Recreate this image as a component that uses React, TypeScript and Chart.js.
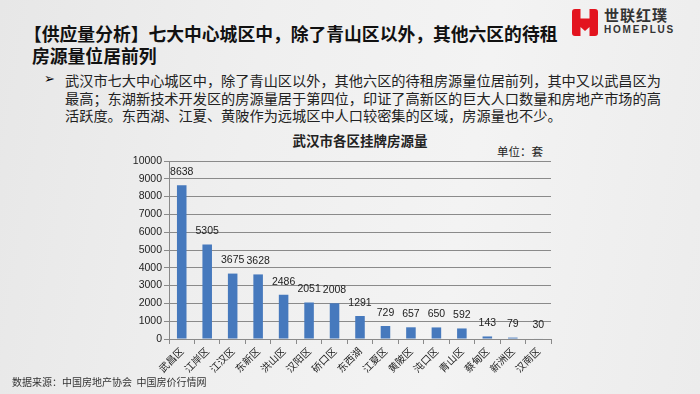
import React, { useEffect, useRef } from "react";
import { Chart, registerables } from "chart.js";

Chart.register(...registerables);

// ---- data ----
const districts = [
  "武昌区", "江岸区", "江汉区", "东新区", "洪山区", "汉阳区", "硚口区", "东西湖",
  "江夏区", "黄陂区", "沌口区", "青山区", "蔡甸区", "新洲区", "汉南区",
];
const listings = [8638, 5305, 3675, 3628, 2486, 2051, 2008, 1291, 729, 657, 650, 592, 143, 79, 30];
const yMin = 0;
const yMax = 10000;
const yStep = 1000;

const titleLines = [
  "【供应量分析】七大中心城区中，除了青山区以外，其他六区的待租",
  "房源量位居前列",
];
const bodyLines = [
  "武汉市七大中心城区中，除了青山区以外，其他六区的待租房源量位居前列，其中又以武昌区为",
  "最高；东湖新技术开发区的房源量居于第四位，印证了高新区的巨大人口数量和房地产市场的高",
  "活跃度。东西湖、江夏、黄陂作为远城区中人口较密集的区域，房源量也不少。",
];
const chartTitle = "武汉市各区挂牌房源量";
const unitLabel = "单位：套";
const sourceNote = "数据来源：中国房地产协会  中国房价行情网";
const brandCn = "世联红璞";
const brandEn = "HOMEPLUS";

const CJK = "'Noto Sans CJK SC', 'Noto Sans', sans-serif";
const LATIN = "'Liberation Sans', Arial, 'Noto Sans CJK SC', sans-serif";

const valueLabels = {
  id: "valueLabels",
  afterDatasetsDraw(chart: any) {
    const ctx = chart.ctx;
    const meta = chart.getDatasetMeta(0);
    const data = chart.data.datasets[0].data as number[];
    ctx.save();
    ctx.font = `10.5px ${LATIN}`;
    ctx.fillStyle = "#222";
    ctx.textAlign = "center";
    ctx.textBaseline = "middle";
    meta.data.forEach((el: any, i: number) => {
      ctx.fillText(String(data[i]), el.x, el.y - 13);
    });
    ctx.restore();
  },
};

function ChartCanvas() {
  const ref = useRef<HTMLCanvasElement | null>(null);
  useEffect(() => {
    if (!ref.current) return;
    const chart = new Chart(ref.current, {
      type: "bar",
      data: {
        labels: districts,
        datasets: [
          {
            data: listings,
            backgroundColor: "#4679bd",
            categoryPercentage: 0.75,
            barPercentage: 0.5,
          },
        ],
      },
      options: {
        responsive: false,
        animation: false,
        devicePixelRatio: 1,
        layout: { padding: { left: 109, right: 149, top: 161, bottom: 0 } },
        plugins: { legend: { display: false }, tooltip: { enabled: false }, title: { display: false } },
        scales: {
          x: {
            offset: true,
            grid: { display: true, offset: true, drawOnChartArea: false, drawTicks: true, tickLength: 5, color: "#8a8a8a" },
            border: { display: true, color: "#8a8a8a" },
            ticks: {
              autoSkip: false,
              maxRotation: 45,
              minRotation: 45,
              padding: 1,
              color: "#222",
              font: { size: 10, family: CJK },
            },
            afterFit: (s: any) => {
              s.height = 55;
            },
          },
          y: {
            min: yMin,
            max: yMax,
            ticks: {
              stepSize: yStep,
              padding: 2,
              color: "#222",
              font: { size: 10.5, family: LATIN },
              callback: (v: any) => String(v),
            },
            grid: { color: "#8a8a8a", tickLength: 5, lineWidth: 1 },
            border: { display: true, color: "#8a8a8a" },
            afterFit: (s: any) => {
              s.width = 60;
            },
          },
        },
      },
      plugins: [valueLabels],
    });
    return () => chart.destroy();
  }, []);
  return (
    <canvas
      ref={ref}
      width={700}
      height={394}
      style={{ position: "absolute", left: 0, top: 0, width: 700, height: 394, display: "block" }}
    />
  );
}

const abs = (o: React.CSSProperties): React.CSSProperties => ({
  position: "absolute",
  whiteSpace: "pre",
  margin: 0,
  ...o,
});

export default function App() {
  return (
    <div
      style={{
        position: "absolute",
        left: 0,
        top: 0,
        width: 700,
        height: 394,
        overflow: "hidden",
        background: "linear-gradient(100deg, #e7e7e7 0%, #efefef 35%, #f3f3f3 65%, #ececec 100%)",
        fontFamily: CJK,
      }}
    >
      {/* logo */}
      <svg style={{ position: "absolute", left: 572, top: 9 }} width={26} height={27} viewBox="0 0 26 27">
        <path
          d="M0,3 Q0,0 3,0 H8.5 V9.5 H17.5 V0 H23 Q26,0 26,3 V24 Q26,27 23,27 H17.5 V18 L13,22 L8.5,18 V27 H3 Q0,27 0,24 Z"
          fill="#e3141f"
        />
      </svg>
      <div style={abs({ left: 604, top: 7, fontSize: 15, lineHeight: "15px", fontWeight: 700, color: "#333", letterSpacing: 1 })}>
        {brandCn}
      </div>
      <div
        style={abs({ left: 604, top: 25, fontSize: 10, lineHeight: "10px", fontWeight: 700, color: "#333", letterSpacing: 1.8, fontFamily: LATIN })}
      >
        {brandEn}
      </div>

      {/* title */}
      {titleLines.map((t, i) => (
        <div
          key={i}
          style={abs({ left: i === 0 ? 24 : 32, top: 25 + i * 22, fontSize: 17.8, lineHeight: "17.8px", fontWeight: 700, color: "#111" })}
        >
          {t}
        </div>
      ))}

      {/* bullet text */}
      <div style={abs({ left: 44, top: 72, fontSize: 13, lineHeight: "13px", color: "#000", fontWeight: 700, fontFamily: "'DejaVu Sans', sans-serif" })}>
        ➢
      </div>
      {bodyLines.map((t, i) => (
        <div key={i} style={abs({ left: 65, top: 73 + i * 17.5, fontSize: 14.2, lineHeight: "14.2px", color: "#222" })}>
          {t}
        </div>
      ))}

      {/* chart title & unit */}
      <div
        style={abs({ left: 360, top: 134, transform: "translateX(-50%)", fontSize: 13.5, lineHeight: "13.5px", fontWeight: 700, color: "#222" })}
      >
        {chartTitle}
      </div>
      <div style={abs({ left: 497, top: 146, fontSize: 11.5, lineHeight: "11.5px", color: "#222" })}>{unitLabel}</div>

      <ChartCanvas />

      {/* source */}
      <div style={abs({ left: 12, top: 377, fontSize: 10, lineHeight: "10px", color: "#333" })}>{sourceNote}</div>
    </div>
  );
}
